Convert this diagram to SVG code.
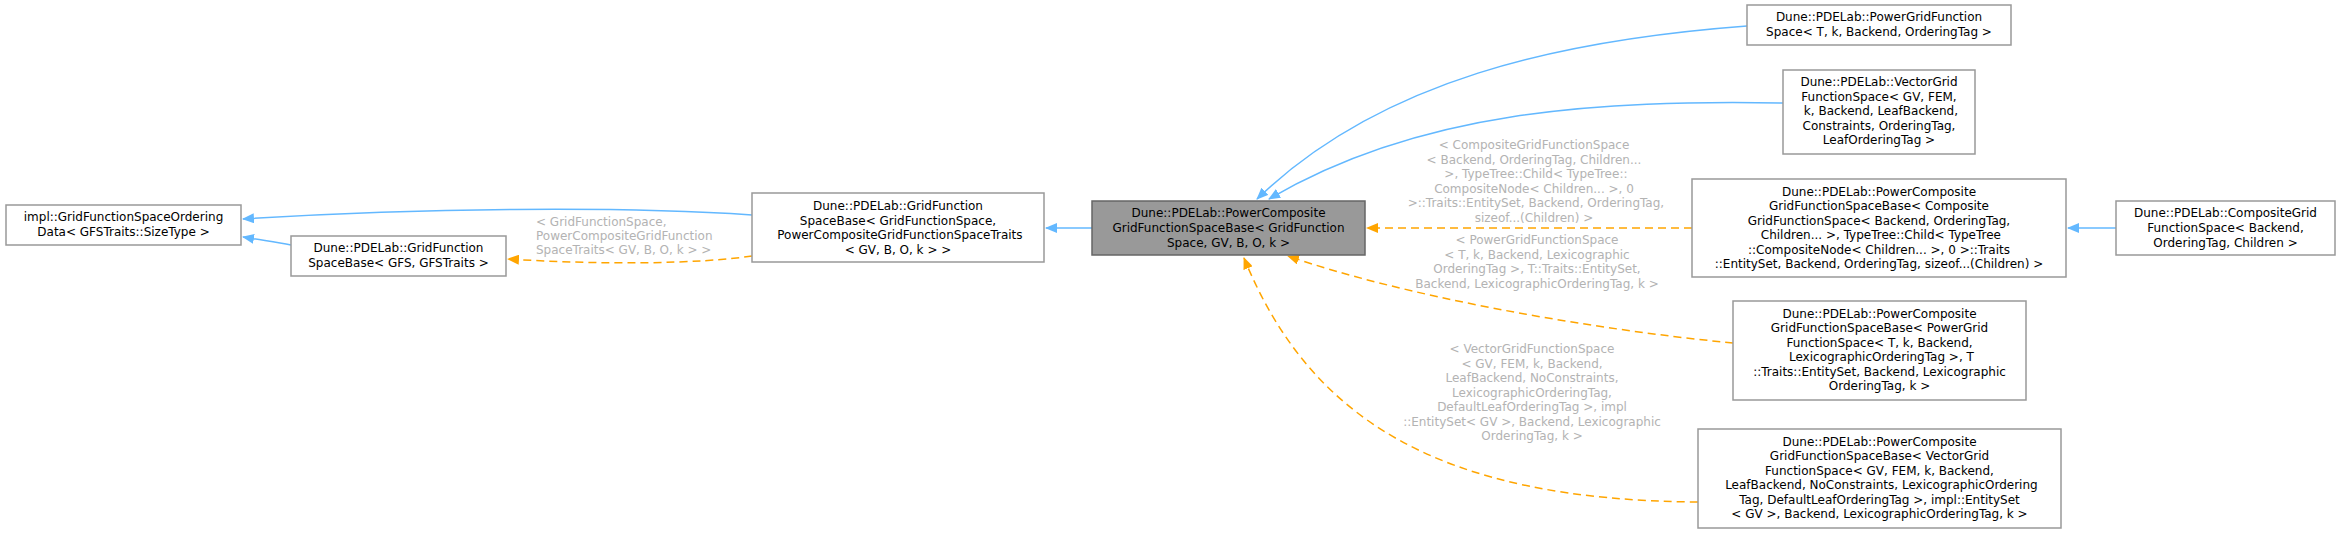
<svg xmlns="http://www.w3.org/2000/svg" width="2340" height="533" viewBox="0 0 2340 533">
<style>
.n rect{fill:#fff;stroke:#999;stroke-width:1.5}
.n.main rect{fill:#999;stroke:#666}
text{font-family:"DejaVu Sans","Liberation Sans",sans-serif;font-size:12px;text-anchor:middle;fill:#000}
.lbl text{fill:#b3b3b3}
.e{fill:none;stroke-width:1.5}
.b{stroke:#63b8ff}
.o{stroke:#ffa500;stroke-dasharray:8,5}
</style>
<defs>
<marker id="ab" markerWidth="12" markerHeight="10" refX="11" refY="5" orient="auto" markerUnits="userSpaceOnUse"><path d="M0,0 L12,5 L0,10 z" fill="#63b8ff"/></marker>
<marker id="ao" markerWidth="12" markerHeight="10" refX="11" refY="5" orient="auto" markerUnits="userSpaceOnUse"><path d="M0,0 L12,5 L0,10 z" fill="#ffa500"/></marker>
</defs>
<g id="connectors">
<path class="e b" d="M752,215 C620,206 420,208 243,219" marker-end="url(#ab)"/>
<path class="e b" d="M291,245 C275,242 260,240 243,237" marker-end="url(#ab)"/>
<path class="e o" d="M752,256 C700,264 600,265 508,259" marker-end="url(#ao)"/>
<path class="e b" d="M1092,228 L1046,228" marker-end="url(#ab)"/>
<path class="e b" d="M1747,26 C1560,40 1380,80 1257,199" marker-end="url(#ab)"/>
<path class="e b" d="M1783,103 C1600,100 1420,110 1269,199" marker-end="url(#ab)"/>
<path class="e o" d="M1692,228 L1367,228" marker-end="url(#ao)"/>
<path class="e b" d="M2116,228 L2068,228" marker-end="url(#ab)"/>
<path class="e o" d="M1733,343 C1580,328 1400,295 1288,256" marker-end="url(#ao)"/>
<path class="e o" d="M1698,502 C1440,500 1310,420 1244,258" marker-end="url(#ao)"/>
</g>
<g class="lbl">
<text style="text-anchor:start" x="536"><tspan y="226">&lt; GridFunctionSpace,</tspan><tspan x="536" y="240">PowerCompositeGridFunction</tspan><tspan x="536" y="254">SpaceTraits&lt; GV, B, O, k &gt; &gt;</tspan></text>
<text x="1534"><tspan x="1534" y="149">&lt; CompositeGridFunctionSpace</tspan><tspan x="1534" y="163.5">&lt; Backend, OrderingTag, Children...</tspan><tspan x="1534" y="178"> &gt;, TypeTree::Child&lt; TypeTree::</tspan><tspan x="1534" y="192.5">CompositeNode&lt; Children... &gt;, 0</tspan><tspan x="1534" y="207"> &gt;::Traits::EntitySet, Backend, OrderingTag,</tspan><tspan x="1534" y="221.5">sizeof...(Children) &gt;</tspan></text>
<text x="1537"><tspan x="1537" y="244">&lt; PowerGridFunctionSpace</tspan><tspan x="1537" y="258.5">&lt; T, k, Backend, Lexicographic</tspan><tspan x="1537" y="273">OrderingTag &gt;, T::Traits::EntitySet,</tspan><tspan x="1537" y="287.5">Backend, LexicographicOrderingTag, k &gt;</tspan></text>
<text x="1532"><tspan x="1532" y="353">&lt; VectorGridFunctionSpace</tspan><tspan x="1532" y="367.5">&lt; GV, FEM, k, Backend,</tspan><tspan x="1532" y="382">LeafBackend, NoConstraints,</tspan><tspan x="1532" y="396.5">LexicographicOrderingTag,</tspan><tspan x="1532" y="411">DefaultLeafOrderingTag &gt;, impl</tspan><tspan x="1532" y="425.5">::EntitySet&lt; GV &gt;, Backend, Lexicographic</tspan><tspan x="1532" y="440">OrderingTag, k &gt;</tspan></text>
</g>
<g id="n_impl" class="n"><rect x="6" y="205" width="235" height="40"/><text x="123.5"><tspan x="123.5" y="221">impl::GridFunctionSpaceOrdering</tspan><tspan x="123.5" y="235.5">Data&lt; GFSTraits::SizeType &gt;</tspan></text></g>
<g id="n_gfsbase" class="n"><rect x="291" y="236" width="215" height="40"/><text x="398.5"><tspan x="398.5" y="252">Dune::PDELab::GridFunction</tspan><tspan x="398.5" y="266.5">SpaceBase&lt; GFS, GFSTraits &gt;</tspan></text></g>
<g id="n_gfsbase2" class="n"><rect x="752" y="193" width="292" height="69"/><text x="898"><tspan x="898" y="210">Dune::PDELab::GridFunction</tspan><tspan x="898" y="224.5">SpaceBase&lt; GridFunctionSpace,</tspan><tspan x="898" y="239"> PowerCompositeGridFunctionSpaceTraits</tspan><tspan x="898" y="253.5">&lt; GV, B, O, k &gt; &gt;</tspan></text></g>
<g id="n_main" class="n main"><rect x="1092" y="201" width="273" height="54"/><text x="1228.5"><tspan x="1228.5" y="217.4">Dune::PDELab::PowerComposite</tspan><tspan x="1228.5" y="232">GridFunctionSpaceBase&lt; GridFunction</tspan><tspan x="1228.5" y="246.6">Space, GV, B, O, k &gt;</tspan></text></g>
<g id="n_powergrid" class="n"><rect x="1747" y="5" width="264" height="40"/><text x="1879"><tspan x="1879" y="21">Dune::PDELab::PowerGridFunction</tspan><tspan x="1879" y="35.5">Space&lt; T, k, Backend, OrderingTag &gt;</tspan></text></g>
<g id="n_vectorgrid" class="n"><rect x="1783" y="70" width="192" height="84"/><text x="1879"><tspan x="1879" y="86">Dune::PDELab::VectorGrid</tspan><tspan x="1879" y="100.5">FunctionSpace&lt; GV, FEM,</tspan><tspan x="1879" y="115"> k, Backend, LeafBackend,</tspan><tspan x="1879" y="129.5">Constraints, OrderingTag,</tspan><tspan x="1879" y="144">LeafOrderingTag &gt;</tspan></text></g>
<g id="n_pc_composite" class="n"><rect x="1692" y="179" width="374" height="98"/><text x="1879"><tspan x="1879" y="195.5">Dune::PDELab::PowerComposite</tspan><tspan x="1879" y="210">GridFunctionSpaceBase&lt; Composite</tspan><tspan x="1879" y="224.5">GridFunctionSpace&lt; Backend, OrderingTag,</tspan><tspan x="1879" y="239"> Children... &gt;, TypeTree::Child&lt; TypeTree</tspan><tspan x="1879" y="253.5">::CompositeNode&lt; Children... &gt;, 0 &gt;::Traits</tspan><tspan x="1879" y="268">::EntitySet, Backend, OrderingTag, sizeof...(Children) &gt;</tspan></text></g>
<g id="n_compositegrid" class="n"><rect x="2116" y="201" width="219" height="54"/><text x="2225.5"><tspan x="2225.5" y="217.4">Dune::PDELab::CompositeGrid</tspan><tspan x="2225.5" y="232">FunctionSpace&lt; Backend,</tspan><tspan x="2225.5" y="246.6">OrderingTag, Children &gt;</tspan></text></g>
<g id="n_pc_powergrid" class="n"><rect x="1733" y="301" width="293" height="99"/><text x="1879.5"><tspan x="1879.5" y="317.5">Dune::PDELab::PowerComposite</tspan><tspan x="1879.5" y="332">GridFunctionSpaceBase&lt; PowerGrid</tspan><tspan x="1879.5" y="346.5">FunctionSpace&lt; T, k, Backend,</tspan><tspan x="1879.5" y="361"> LexicographicOrderingTag &gt;, T</tspan><tspan x="1879.5" y="375.5">::Traits::EntitySet, Backend, Lexicographic</tspan><tspan x="1879.5" y="390">OrderingTag, k &gt;</tspan></text></g>
<g id="n_pc_vectorgrid" class="n"><rect x="1698" y="429" width="363" height="99"/><text x="1879.5"><tspan x="1879.5" y="445.5">Dune::PDELab::PowerComposite</tspan><tspan x="1879.5" y="460">GridFunctionSpaceBase&lt; VectorGrid</tspan><tspan x="1879.5" y="474.5">FunctionSpace&lt; GV, FEM, k, Backend,</tspan><tspan x="1879.5" y="489"> LeafBackend, NoConstraints, LexicographicOrdering</tspan><tspan x="1879.5" y="503.5">Tag, DefaultLeafOrderingTag &gt;, impl::EntitySet</tspan><tspan x="1879.5" y="518">&lt; GV &gt;, Backend, LexicographicOrderingTag, k &gt;</tspan></text></g>
</svg>
